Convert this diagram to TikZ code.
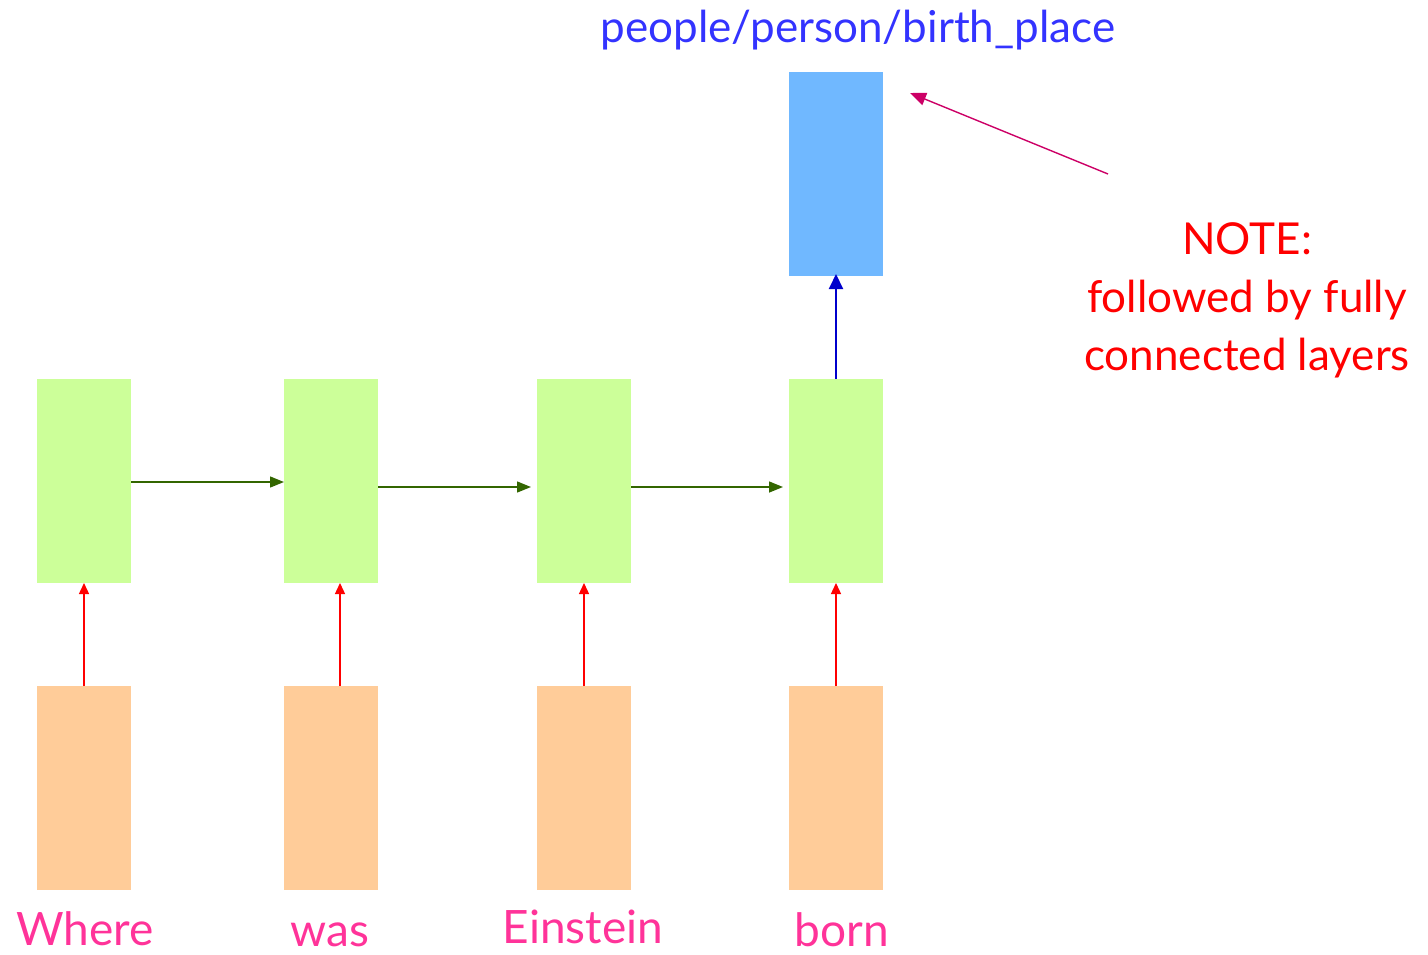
\documentclass[tikz,border=0pt]{standalone}
\usepackage{fontspec}
\setmainfont{Lato}
\usetikzlibrary{arrows.meta}
\definecolor{inputfill}{HTML}{FFCC99}
\definecolor{hiddenfill}{HTML}{CCFF99}
\definecolor{outfill}{HTML}{70B8FF}
\definecolor{wordpink}{HTML}{FF3399}
\definecolor{labelblue}{HTML}{3333FF}
\definecolor{recgreen}{HTML}{336600}
\definecolor{notemagenta}{HTML}{CC0066}
\tikzset{
  cell/.style={minimum width=94pt, minimum height=204pt, inner sep=0pt, outer sep=0pt, anchor=north west},
  inbox/.style={cell, fill=inputfill},
  hidbox/.style={cell, fill=hiddenfill},
  outbox/.style={cell, fill=outfill},
  word/.style={text=wordpink, font=\fontsize{46}{50}\selectfont, inner sep=0pt, anchor=base},
  inarrow/.style={draw=red, line width=1.4pt, -{Triangle[length=11pt,width=10pt]}},
  recarrow/.style={draw=recgreen, line width=1.4pt, -{Triangle[length=14pt,width=11pt]}},
  outarrow/.style={draw=blue!80!black, line width=2pt, -{Triangle[length=15pt,width=14pt]}},
  notearrow/.style={draw=notemagenta, line width=1.4pt, -{Triangle[length=16pt,width=13pt]}},
}
\begin{document}
\begin{tikzpicture}[x=1pt, y=-1pt]
\useasboundingbox (0,0) rectangle (1428,954);

% input embeddings
\node[inbox] (i1) at (37,686) {};
\node[inbox] (i2) at (284,686) {};
\node[inbox] (i3) at (537,686) {};
\node[inbox] (i4) at (789,686) {};

% recurrent hidden states
\node[hidbox] (h1) at (37,379) {};
\node[hidbox] (h2) at (284,379) {};
\node[hidbox] (h3) at (537,379) {};
\node[hidbox] (h4) at (789,379) {};

% output layer
\node[outbox] (o) at (789,72) {};

% words
\node[word] (w1) at (85,945) {Where};
\node[word] (w2) at (330,946) {was};
\node[word] (w3) at (583,943) {Einstein};
\node[word] (w4) at (842,946) {born};

% relation label
\node[text=labelblue, font=\fontsize{44}{48}\selectfont, inner sep=0pt, anchor=base] (rel) at (858,42) {people/person/birth\_place};

% note
\node[text=red, font=\fontsize{44}{58}\selectfont, align=center, inner sep=0pt] (note) at (1247,300)
  {NOTE:\\followed by fully\\connected layers};
\coordinate (notetail) at (1108,174);
\coordinate (notehead) at (910,93);

% input -> hidden
\draw[inarrow] (i1.north) -- (h1.south);
\draw[inarrow] (i2.north -| 340,0) -- (h2.south -| 340,0);
\draw[inarrow] (i3.north) -- (h3.south);
\draw[inarrow] (i4.north) -- (h4.south);

% hidden -> hidden
\draw[recarrow] (h1.east |- 0,482) -- (h2.west |- 0,482);
\draw[recarrow] (h2.east |- 0,487) -- ([xshift=-6pt]h3.west |- 0,487);
\draw[recarrow] (h3.east |- 0,487) -- ([xshift=-6pt]h4.west |- 0,487);

% hidden -> output
\draw[outarrow] (h4.north) -- ([yshift=2pt]o.south);

% note pointer
\draw[notearrow] (notetail) -- (notehead);
\end{tikzpicture}
\end{document}
